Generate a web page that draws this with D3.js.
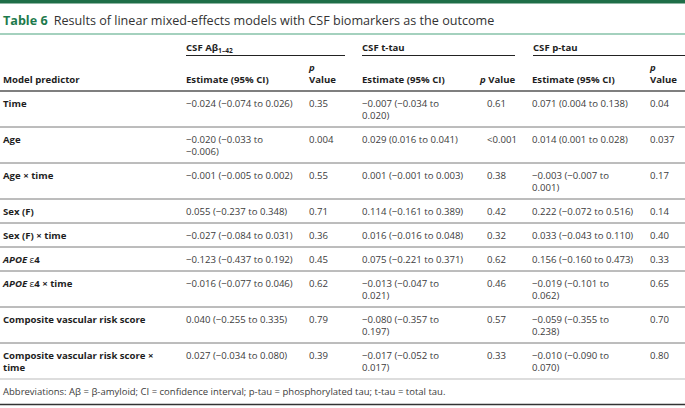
<!DOCTYPE html>
<meta charset="utf-8">
<style>
  body { margin: 0; background: #fff; }
  svg { display: block; font-family: "Open Sans", sans-serif; }
</style>
<svg id="table"></svg>
<script src="https://cdn.jsdelivr.net/npm/d3@7"></script>
<script>

// table content
var titleLabel = "Table 6";
var titleText = "Results of linear mixed-effects models with CSF biomarkers as the outcome";
var groups = ["CSF Aβ", "CSF t-tau", "CSF p-tau"];
var predictors = ["Time", "Age", "Age × time", "Sex (F)", "Sex (F) × time", "APOE ε4",
    "APOE ε4 × time", "Composite vascular risk score", "Composite vascular risk score × time"];
var abetaEst = ["−0.024 (−0.074 to 0.026)", "−0.020 (−0.033 to −0.006)", "−0.001 (−0.005 to 0.002)",
    "0.055 (−0.237 to 0.348)", "−0.027 (−0.084 to 0.031)", "−0.123 (−0.437 to 0.192)",
    "−0.016 (−0.077 to 0.046)", "0.040 (−0.255 to 0.335)", "0.027 (−0.034 to 0.080)"];
var abetaP = ["0.35", "0.004", "0.55", "0.71", "0.36", "0.45", "0.62", "0.79", "0.39"];
var ttauEst = ["−0.007 (−0.034 to 0.020)", "0.029 (0.016 to 0.041)", "0.001 (−0.001 to 0.003)",
    "0.114 (−0.161 to 0.389)", "0.016 (−0.016 to 0.048)", "0.075 (−0.221 to 0.371)",
    "−0.013 (−0.047 to 0.021)", "−0.080 (−0.357 to 0.197)", "−0.017 (−0.052 to 0.017)"];
var ttauP = ["0.61", "<0.001", "0.38", "0.42", "0.32", "0.62", "0.46", "0.57", "0.33"];
var ptauEst = ["0.071 (0.004 to 0.138)", "0.014 (0.001 to 0.028)", "−0.003 (−0.007 to 0.001)",
    "0.222 (−0.072 to 0.516)", "0.033 (−0.043 to 0.110)", "0.156 (−0.160 to 0.473)",
    "−0.019 (−0.101 to 0.062)", "−0.059 (−0.355 to 0.238)", "−0.010 (−0.090 to 0.070)"];
var ptauP = ["0.04", "0.037", "0.17", "0.14", "0.40", "0.33", "0.65", "0.70", "0.80"];
var footnote = "Abbreviations: Aβ = β-amyloid; CI = confidence interval; p-tau = phosphorylated tau; t-tau = total tau.";

var width = 685, height = 408;
var fs = 9.6, fsBold = 9.6, fsNote = 9.5, lineH = 12;
var ink = "#3c3c3c", dark = "#1e1e1e";

var svg = d3.select("#table")
    .attr("width", width)
    .attr("height", height);

// columns: x position and wrap width
var cols = [
  {x: 3,   w: 162, data: predictors, bold: true},
  {x: 186, w: 110, data: abetaEst},
  {x: 309, w: 60,  data: abetaP},
  {x: 362, w: 104, data: ttauEst},
  {x: 487, w: 60,  data: ttauP},
  {x: 532, w: 104, data: ptauEst},
  {x: 650, w: 60,  data: ptauP}
];

// measuring text for wrapping
var probe = svg.append("text").attr("x", -999);
function measure(str, bold) {
  probe.style("font-weight", bold ? 700 : 400)
      .style("font-size", (bold ? fsBold : fs) + "px")
      .text(str);
  return probe.node().getComputedTextLength();
}
function wrap(str, w, bold) {
  var words = str.split(" "), lines = [], cur = "";
  words.forEach(function(wd) {
    var t = cur ? cur + " " + wd : wd;
    if (cur && measure(t, bold) > w) { lines.push(cur); cur = wd; }
    else cur = t;
  });
  lines.push(cur);
  return lines;
}

// put a line into a text node, APOE in italic and ε in regular weight
function fill(sel, str) {
  str.split(/(APOE|ε)/).forEach(function(part) {
    if (!part) return;
    var t = sel.append("tspan").text(part);
    if (part === "APOE") t.style("font-style", "italic");
    if (part === "ε") t.style("font-weight", 400);
  });
}

// top bar and title
svg.append("rect")
    .attr("x", 0).attr("y", 0)
    .attr("width", width).attr("height", 3.5)
    .attr("fill", "#1f6e48");

var title = svg.append("text")
    .attr("x", 3).attr("y", 25)
    .style("font-size", "12.6px");
title.append("tspan")
    .attr("fill", "#1d7a4c")
    .style("font-weight", 700)
    .text(titleLabel);
title.append("tspan")
    .attr("dx", 6)
    .attr("fill", "#333")
    .text(titleText);

svg.append("line")
    .attr("x1", 0).attr("x2", width)
    .attr("y1", 34).attr("y2", 34)
    .attr("stroke", "#86c2a9")
    .attr("stroke-width", 1.5);

// group headers
var groupX = [[186, 345], [362, 515], [533, 685]];
groups.forEach(function(g, i) {
  var t = svg.append("text")
      .attr("x", groupX[i][0]).attr("y", 51)
      .attr("fill", dark)
      .style("font-size", fsBold + "px")
      .style("font-weight", 700)
      .text(g);
  if (i === 0) {
    t.append("tspan")
        .attr("dy", 2)
        .style("font-size", "6.6px")
        .text("1–42");
  }
  svg.append("line")
      .attr("x1", groupX[i][0]).attr("x2", groupX[i][1])
      .attr("y1", 55.5).attr("y2", 55.5)
      .attr("stroke", "#222")
      .attr("stroke-width", 1.2);
});

// column headers
function head(x, y, str, italic) {
  return svg.append("text")
      .attr("x", x).attr("y", y)
      .attr("fill", dark)
      .style("font-size", fsBold + "px")
      .style("font-weight", 700)
      .style("font-style", italic ? "italic" : null)
      .text(str);
}
head(3, 82.5, "Model predictor");
[186, 362, 532].forEach(function(x) { head(x, 82.5, "Estimate (95% CI)"); });
[309, 650].forEach(function(x) {
  head(x, 70.5, "p", true);
  head(x, 82.5, "Value");
});
var pv = head(480, 82.5, "");
pv.append("tspan").style("font-style", "italic").text("p");
pv.append("tspan").text(" Value");

svg.append("line")
    .attr("x1", 0).attr("x2", width)
    .attr("y1", 91).attr("y2", 91)
    .attr("stroke", "#555")
    .attr("stroke-width", 1.3);

// body rows
var wrapped = cols.map(function(c) {
  return c.data.map(function(d) { return wrap(d, c.w, c.bold); });
});
var rowTop = 91;
predictors.forEach(function(p, r) {
  var nLines = d3.max(wrapped, function(c) { return c[r].length; });
  cols.forEach(function(c, ci) {
    wrapped[ci][r].forEach(function(ln, li) {
      var t = svg.append("text")
          .attr("x", c.x)
          .attr("y", rowTop + 15.5 + li * lineH)
          .attr("fill", c.bold ? dark : ink)
          .style("font-size", (c.bold ? fsBold : fs) + "px")
          .style("font-weight", c.bold ? 700 : 400);
      fill(t, ln);
    });
  });
  rowTop += 24 + (nLines - 1) * lineH;
  svg.append("line")
      .attr("x1", 0).attr("x2", width)
      .attr("y1", rowTop).attr("y2", rowTop)
      .attr("stroke", r === predictors.length - 1 ? "#bbb" : "#7a7a7a")
      .attr("stroke-width", 1);
});

// footnote
svg.append("text")
    .attr("x", 3).attr("y", rowTop + 16)
    .attr("fill", ink)
    .style("font-size", fsNote + "px")
    .text(footnote);

svg.append("line")
    .attr("x1", 0).attr("x2", width)
    .attr("y1", rowTop + 25.5).attr("y2", rowTop + 25.5)
    .attr("stroke", "#333")
    .attr("stroke-width", 1.5);

probe.remove();
</script>
